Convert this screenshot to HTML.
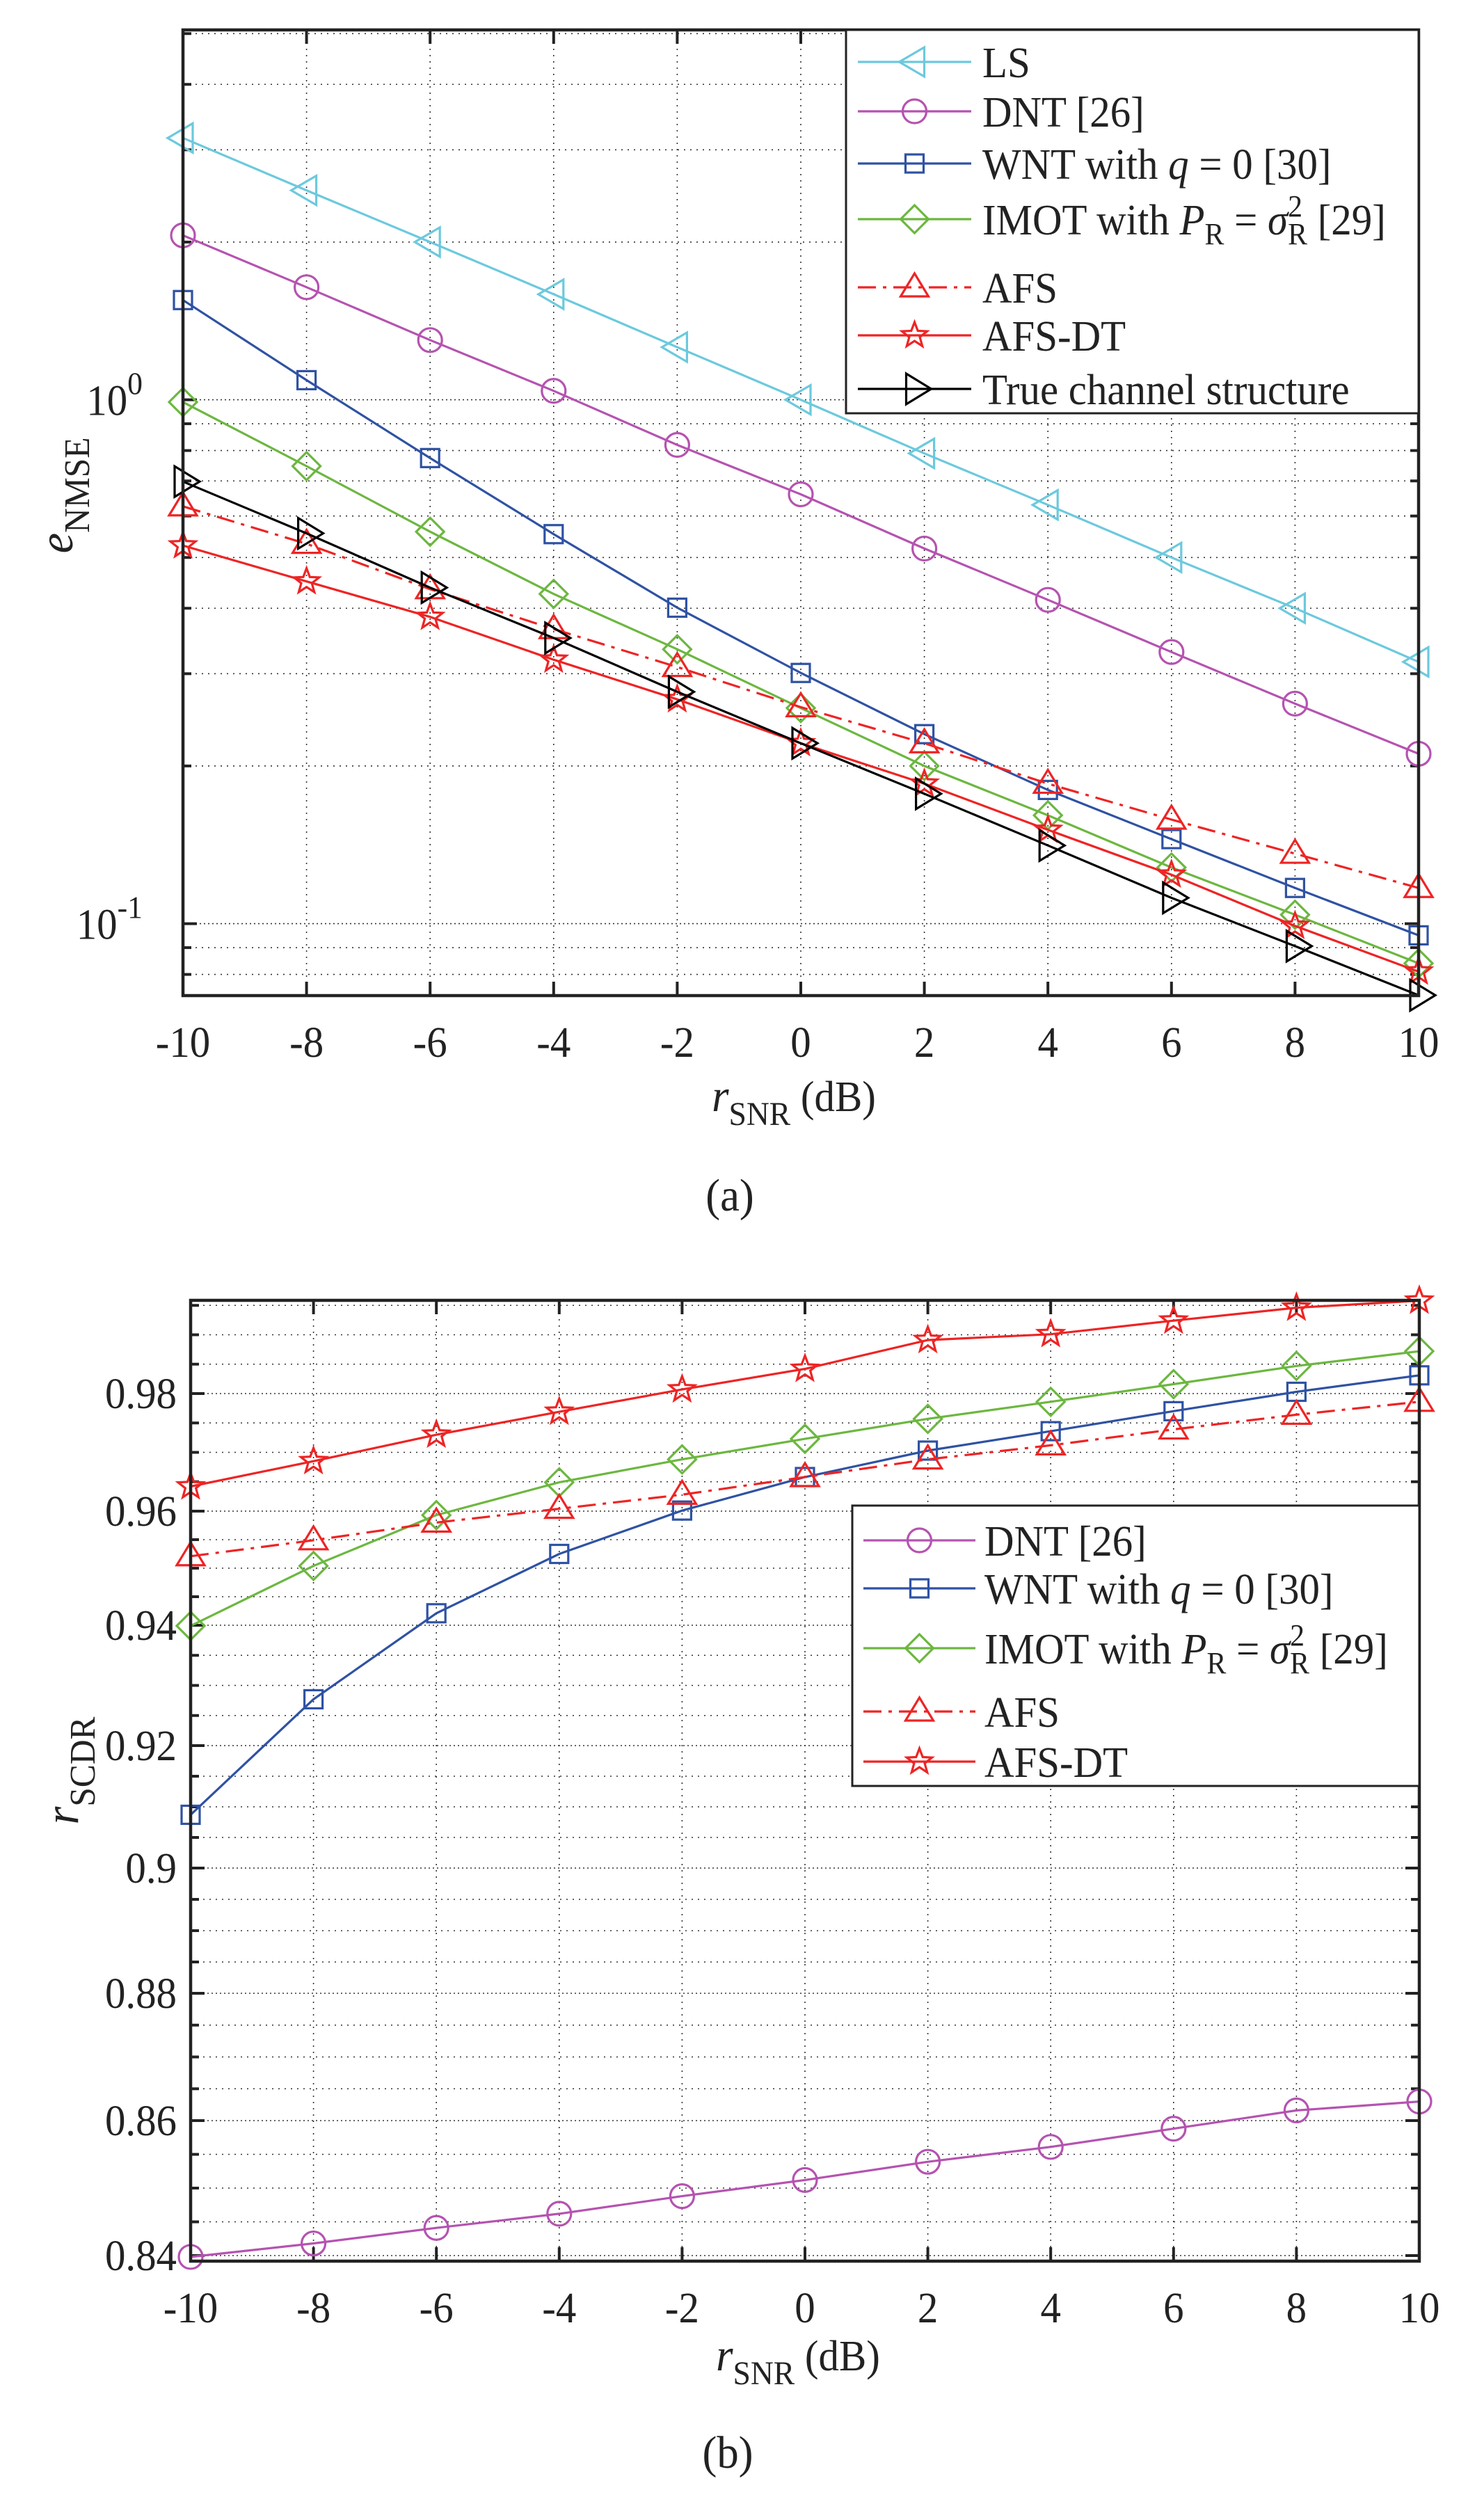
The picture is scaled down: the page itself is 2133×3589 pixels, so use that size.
<!DOCTYPE html>
<html><head><meta charset="utf-8"><style>
html,body{margin:0;padding:0;background:#fff;}
svg{display:block;font-family:"Liberation Serif",serif;}
</style></head><body>
<svg id="fig" width="2133" height="3589" viewBox="0 0 2133 3589" xmlns="http://www.w3.org/2000/svg">
<rect x="0" y="0" width="2133" height="3589" fill="#fff"/>
</svg>
<script>
// ---------- data ----------
const snr = [-10,-8,-6,-4,-2,0,2,4,6,8,10];
const xTicks = [-10,-8,-6,-4,-2,0,2,4,6,8,10];
const xTickLabels = ["-10","-8","-6","-4","-2","0","2","4","6","8","10"];
// (a) NMSE
const nmseLS   = [3.16,2.51,2.0,1.59,1.26,1.0,0.79,0.63,0.5,0.4,0.316];
const nmseDNT  = [2.06,1.64,1.30,1.04,0.82,0.66,0.52,0.415,0.33,0.263,0.211];
const nmseWNT  = [1.55,1.09,0.774,0.554,0.401,0.301,0.230,0.180,0.145,0.117,0.095];
const nmseIMOT = [0.99,0.747,0.56,0.426,0.334,0.258,0.20,0.161,0.128,0.104,0.084];
const nmseAFS  = [0.626,0.531,0.435,0.365,0.309,0.259,0.221,0.185,0.158,0.136,0.117];
const nmseAFSDT= [0.527,0.450,0.385,0.319,0.268,0.221,0.185,0.151,0.124,0.099,0.081];
const nmseTrue = [0.698,0.556,0.438,0.351,0.277,0.221,0.177,0.141,0.112,0.0906,0.073];
// (b) SCDR
const scdrDNT  = [0.8398,0.8418,0.8441,0.8462,0.8488,0.8512,0.8539,0.8561,0.8588,0.8616,0.8630];
const scdrWNT  = [0.9087,0.9277,0.9421,0.9525,0.9601,0.9658,0.9703,0.9736,0.9770,0.9803,0.9831];
const scdrIMOT = [0.9399,0.9504,0.9593,0.9649,0.9688,0.9723,0.9757,0.9786,0.9816,0.9847,0.9872];
const scdrAFS  = [0.9521,0.9549,0.9580,0.9604,0.9628,0.9658,0.9688,0.9712,0.9739,0.9764,0.9786];
const scdrAFSDT= [0.9642,0.9685,0.9730,0.9769,0.9807,0.9842,0.9891,0.9901,0.9924,0.9946,0.9958];
const bTickVals = [0.84,0.86,0.88,0.90,0.92,0.94,0.96,0.98];
const bTickLabels = ["0.84","0.86","0.88","0.9","0.92","0.94","0.96","0.98"];

// ---------- helpers ----------
const NS="http://www.w3.org/2000/svg";
const svg=document.getElementById('fig');
function mk(tag,attrs,parent){const e=document.createElementNS(NS,tag);for(const k in attrs)e.setAttribute(k,attrs[k]);(parent||svg).appendChild(e);return e;}
const SX=0.95;
function txt(x,y,html,size,anchor,parent){
  const e=mk('text',{transform:`translate(${x},${y}) scale(${SX},1)`,x:0,y:0,'font-size':size,'text-anchor':anchor||'middle',fill:'#222'},parent);
  e.innerHTML=html;return e;
}
const COL={LS:'#6cc9dd',DNT:'#b553b0',WNT:'#2f52a3',IMOT:'#6cb740',AFS:'#ee2424',AFSDT:'#ee2424',TRUE:'#000'};
function marker(g,type,x,y,color){
  const a={fill:'none',stroke:color,'stroke-width':3.2};
  let e;
  if(type==='circle'){e=mk('circle',Object.assign({cx:x,cy:y,r:17},a),g);}
  else if(type==='square'){e=mk('rect',Object.assign({x:x-13,y:y-13,width:26,height:26},a),g);}
  else if(type==='diamond'){e=mk('polygon',Object.assign({points:`${x},${y-20} ${x+20},${y} ${x},${y+20} ${x-20},${y}`},a),g);}
  else if(type==='triup'){e=mk('polygon',Object.assign({points:`${x},${y-20} ${x+20},${y+13} ${x-20},${y+13}`},a),g);}
  else if(type==='trileft'){e=mk('polygon',Object.assign({points:`${x-22},${y} ${x+14},${y-21} ${x+14},${y+21}`},a),g);}
  else if(type==='triright'){e=mk('polygon',Object.assign({points:`${x+24},${y} ${x-12},${y-22} ${x-12},${y+22}`},a),g);}
  else if(type==='star'){
    let p=[];for(let i=0;i<10;i++){const r=i%2?8:19;const ang=-Math.PI/2+i*Math.PI/5;p.push((x+r*Math.cos(ang)).toFixed(1)+','+(y+r*Math.sin(ang)).toFixed(1));}
    e=mk('polygon',Object.assign({points:p.join(' ')},a),g);
  }
  return e;
}

function drawPanel(P){
  const g=mk('g',{});
  
  
  const X=v=>P.left+(v+10)/20*(P.right-P.left);
  const grid=mk('g',{stroke:'#333','stroke-width':1.6,'stroke-dasharray':'2,7',fill:'none'},g);
  
  
  xTicks.forEach(v=>{if(v>-10&&v<10)mk('line',{x1:X(v),x2:X(v),y1:P.top,y2:P.bottom},grid);});
  P.minor.forEach(py=>mk('line',{x1:P.left,x2:P.right,y1:py,y2:py},grid));
  P.major.forEach(py=>mk('line',{x1:P.left,x2:P.right,y1:py,y2:py,'stroke-dasharray':'2,4'},grid));
  const tk=mk('g',{stroke:'#222','stroke-width':4},g);
  xTicks.forEach(v=>{mk('line',{x1:X(v),x2:X(v),y1:P.bottom,y2:P.bottom-20},tk);mk('line',{x1:X(v),x2:X(v),y1:P.top,y2:P.top+20},tk);});
  P.major.forEach(py=>{mk('line',{x1:P.left,x2:P.left+20,y1:py,y2:py},tk);mk('line',{x1:P.right,x2:P.right-20,y1:py,y2:py},tk);});
  P.minor.forEach(py=>{mk('line',{x1:P.left,x2:P.left+12,y1:py,y2:py},tk);mk('line',{x1:P.right,x2:P.right-12,y1:py,y2:py},tk);});
  P.series.forEach(s=>{
    const sg=mk('g',{},g);
    
    
    const pts=s.vals.map((v,i)=>X(snr[i]).toFixed(1)+','+P.Y(v).toFixed(1)).join(' ');
    const pl=mk('polyline',{points:pts,fill:'none',stroke:s.color,'stroke-width':3.2},sg);
    if(s.dash)pl.setAttribute('stroke-dasharray',s.dash);
    s.vals.forEach((v,i)=>{
      const m=marker(sg,s.marker,X(snr[i]),P.Y(v),s.color);
      
      
    });
  });
  const box=mk('rect',{x:P.left,y:P.top,width:P.right-P.left,height:P.bottom-P.top,fill:'none',stroke:'#222','stroke-width':4.5},g);
  
  
  xTicks.forEach((v,i)=>{
    const t=txt(X(v),P.bottom+88,xTickLabels[i],62,'middle',g);
    
    
  });
  const xt=txt((P.left+P.right)/2-10,P.xTitleY,'<tspan font-style="italic" font-size="66">r</tspan><tspan font-size="48" dy="20">SNR</tspan><tspan font-size="62" dy="-20"> (dB)</tspan>',62,'middle',g);
  
  
  const cap=txt(P.capX,P.capY,P.caption,66,'middle',g);
  
  
  const L=P.legend;
  const lg=mk('g',{},g);
  
  
  mk('rect',{x:L.x,y:L.y,width:L.w,height:L.h,fill:'#fff',stroke:'#222','stroke-width':3},lg);
  L.items.forEach(it=>{
    const eg=mk('g',{},lg);
    
    
    const ln=mk('line',{x1:L.lx1,x2:L.lx2,y1:it.y,y2:it.y,stroke:it.s.color,'stroke-width':3.2},eg);
    if(it.s.dash)ln.setAttribute('stroke-dasharray',it.s.dash);
    marker(eg,it.s.marker,(L.lx1+L.lx2)/2,it.y,it.s.color);
    txt(L.tx,it.y+22,it.label,62,'start',eg);
  });
  return g;
}

// ---------- panel (a) ----------
const aTop=43,aBottom=1431;
const yA=v=>574.6-753*Math.log10(v);
const aMinor=[];[0.1,1].forEach(d=>{for(let k=2;k<=9;k++){const py=yA(d*k);if(py>aTop+2&&py<aBottom-2)aMinor.push(py);}});
[0.07,0.08,0.09].forEach(v=>{const py=yA(v);if(py>aTop+2&&py<aBottom-2)aMinor.push(py);});
const S={
 LS:{key:'ls',color:COL.LS,marker:'trileft'},
 DNT:{key:'dnt',color:COL.DNT,marker:'circle'},
 WNT:{key:'wnt',color:COL.WNT,marker:'square'},
 IMOT:{key:'imot',color:COL.IMOT,marker:'diamond'},
 AFS:{key:'afs',color:COL.AFS,marker:'triup',dash:'26,10,5,10'},
 AFSDT:{key:'afs-dt',color:COL.AFSDT,marker:'star'},
 TRUE:{key:'true-structure',color:COL.TRUE,marker:'triright'}
};
const lblWNT='WNT with <tspan font-style="italic">q</tspan> = 0 [30]';
const lblIMOT='IMOT with <tspan font-style="italic">P</tspan><tspan font-size="44" dy="14">R</tspan><tspan dy="-14"> = </tspan><tspan font-style="italic">σ</tspan><tspan font-size="44" dy="-26">2</tspan><tspan font-size="44" dx="-22" dy="40">R</tspan><tspan dy="-14"> [29]</tspan>';
drawPanel({
 name:'nmse-chart',left:263,right:2039,top:aTop,bottom:aBottom,Y:yA,
 major:[yA(1),yA(0.1)],minor:aMinor,xTitleY:1597,caption:'(a)',capX:1049,capY:1740,
 series:[
  Object.assign({vals:nmseLS},S.LS),Object.assign({vals:nmseDNT},S.DNT),Object.assign({vals:nmseWNT},S.WNT),
  Object.assign({vals:nmseIMOT},S.IMOT),Object.assign({vals:nmseAFS},S.AFS),Object.assign({vals:nmseAFSDT},S.AFSDT),
  Object.assign({vals:nmseTrue},S.TRUE)],
 legend:{x:1216,y:43,w:823,h:551,lx1:1233,lx2:1396,tx:1412,items:[
  {y:89,s:S.LS,label:'LS'},{y:160,s:S.DNT,label:'DNT [26]'},{y:235,s:S.WNT,label:lblWNT},
  {y:315,s:S.IMOT,label:lblIMOT},{y:413,s:S.AFS,label:'AFS'},{y:482,s:S.AFSDT,label:'AFS-DT'},
  {y:559,s:S.TRUE,label:'True channel structure'}]}
});
[[1,'0'],[0.1,'-1']].forEach(p=>{
  const t=txt(205,yA(p[0])+22,'10<tspan font-size="46" dy="-30">'+p[1]+'</tspan>',62,'end');
  
  
});
const ya=mk('text',{transform:'translate(104,712) rotate(-90) scale(0.95,1)',x:0,y:0,'font-size':70,'text-anchor':'middle',fill:'#222'});
ya.innerHTML='<tspan font-style="italic">e</tspan><tspan font-size="52" dy="24">NMSE</tspan>';



// ---------- panel (b) ----------
const bTop=1869,bBottom=3250;
const yAxisPx=[3242,3048,2865,2685,2509,2336,2172,2003];
function yB(v){
  let i=0;
  if(v<=bTickVals[0])i=0;else if(v>=bTickVals[bTickVals.length-1])i=bTickVals.length-2;
  else{while(!(v>=bTickVals[i]&&v<=bTickVals[i+1]))i++;}
  const f=(v-bTickVals[i])/(bTickVals[i+1]-bTickVals[i]);
  return yAxisPx[i]+f*(yAxisPx[i+1]-yAxisPx[i]);
}
const bMinor=[];for(let v=0.835;v<=0.996;v+=0.005){const r=Math.round(v*1000)/1000;if(Math.round(r*1000)%20!==0){const py=yB(r);if(py>bTop+2&&py<bBottom-2)bMinor.push(py);}}
drawPanel({
 name:'scdr-chart',left:274,right:2040,top:bTop,bottom:bBottom,Y:yB,
 major:bTickVals.map(yB),minor:bMinor,xTitleY:3407,caption:'(b)',capX:1046,capY:3547,
 series:[
  Object.assign({vals:scdrDNT},S.DNT),Object.assign({vals:scdrWNT},S.WNT),Object.assign({vals:scdrIMOT},S.IMOT),
  Object.assign({vals:scdrAFS},S.AFS),Object.assign({vals:scdrAFSDT},S.AFSDT)],
 legend:{x:1225,y:2164,w:815,h:403,lx1:1241,lx2:1402,tx:1415,items:[
  {y:2214,s:S.DNT,label:'DNT [26]'},{y:2283,s:S.WNT,label:lblWNT},{y:2369,s:S.IMOT,label:lblIMOT},
  {y:2460,s:S.AFS,label:'AFS'},{y:2532,s:S.AFSDT,label:'AFS-DT'}]}
});
bTickVals.forEach((v,i)=>{
  const t=txt(254,yB(v)+21,bTickLabels[i],62,'end');
  
  
});
const yb=mk('text',{transform:'translate(112,2545) rotate(-90) scale(0.95,1)',x:0,y:0,'font-size':70,'text-anchor':'middle',fill:'#222'});
yb.innerHTML='<tspan font-style="italic">r</tspan><tspan font-size="52" dy="24">SCDR</tspan>';


</script>
</body></html>
